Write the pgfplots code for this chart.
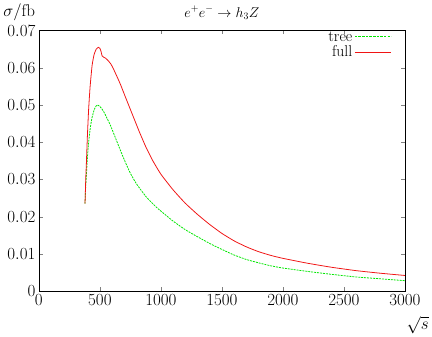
\documentclass[border=0pt]{standalone}
\usepackage{pgfplots}
\pgfplotsset{compat=1.18}

\definecolor{treegreen}{RGB}{0,230,0}
\definecolor{fullred}{RGB}{240,20,20}

% full (one-loop) cross section
\pgfplotstableread{
s sigma
378 0.0235
384 0.0300
390 0.0350
398 0.0420
408 0.0490
420 0.0550
436 0.0606
452 0.0635
470 0.0650
489 0.0655
500 0.0652
510 0.0643
518 0.0632
528 0.0629
545 0.0626
565 0.0620
590 0.0610
611 0.0597
665 0.0558
718 0.0514
773 0.0469
827 0.0425
880 0.0385
934 0.0350
1000 0.0314
1100 0.0272
1200 0.0236
1300 0.0206
1400 0.0179
1500 0.0155
1600 0.0135
1700 0.0119
1800 0.0106
1900 0.0096
2000 0.0088
2200 0.0075
2400 0.0064
2600 0.0055
2800 0.0048
3000 0.0042
}\fulldata

% tree-level cross section
\pgfplotstableread{
s sigma
378 0.0235
384 0.0285
390 0.0315
398 0.0360
409 0.0403
422 0.0440
435 0.0465
455 0.0489
476 0.0500
500 0.0496
530 0.0483
584 0.0447
638 0.0403
692 0.0359
746 0.0319
800 0.0288
880 0.0253
961 0.0226
1000 0.0215
1100 0.0188
1200 0.0165
1300 0.0146
1400 0.0128
1500 0.0112
1600 0.0097
1700 0.0085
1800 0.0076
1900 0.0068
2000 0.0062
2200 0.0053
2400 0.0045
2600 0.0038
2800 0.0033
3000 0.0028
}\treedata

\begin{document}
\begin{tikzpicture}[font=\fontsize{16}{19}\selectfont]
\begin{axis}[
  scale only axis,
  width=370.8bp, height=264bp,
  xmin=0, xmax=3000, ymin=0, ymax=0.07,
  xtick={0,500,...,3000},
  ytick={0,0.01,...,0.07},
  minor tick num=0,
  tick align=inside,
  major tick length=4bp,
  axis line style={line width=0.8pt},
  scaled y ticks=false,
  yticklabel style={/pgf/number format/fixed, /pgf/number format/precision=2},
  xticklabel style={/pgf/number format/set thousands separator={}},
  title={$e^+e^-\rightarrow h_3 Z$},
  title style={font=\fontsize{14}{16}\selectfont, yshift=2bp},
  clip=false,
  legend style={draw=none, fill=none, at={(rel axis cs:1,1)}, anchor=north east,
    xshift=-10bp, yshift=3bp, font=\fontsize{16}{16}\selectfont, row sep=-1bp},
  legend cell align=right,
  legend plot pos=right,
]
\addplot[treegreen, line width=0.8pt, dash pattern=on 2bp off 1bp, smooth, tension=0.3] table[x=s, y=sigma] {\treedata};
\addplot[fullred, line width=0.8pt, smooth, tension=0.3] table[x=s, y=sigma] {\fulldata};
\addlegendimage{legend image code/.code={\draw[treegreen, line width=1.1pt, dash pattern=on 2.5bp off 1.2bp] (0bp,1bp) -- (37bp,1bp);}}
\addlegendimage{legend image code/.code={\draw[fullred, line width=0.8pt] (0bp,0bp) -- (37bp,0bp);}}
\legend{,,tree,full}
\node[anchor=center] at (rel axis cs:0,1) [xshift=-20bp, yshift=19bp] {$\sigma/\mathrm{fb}$};
\node[anchor=center] at (rel axis cs:1,0) [xshift=13bp, yshift=-34bp] {$\sqrt{s}$};
\end{axis}
\end{tikzpicture}
\end{document}
